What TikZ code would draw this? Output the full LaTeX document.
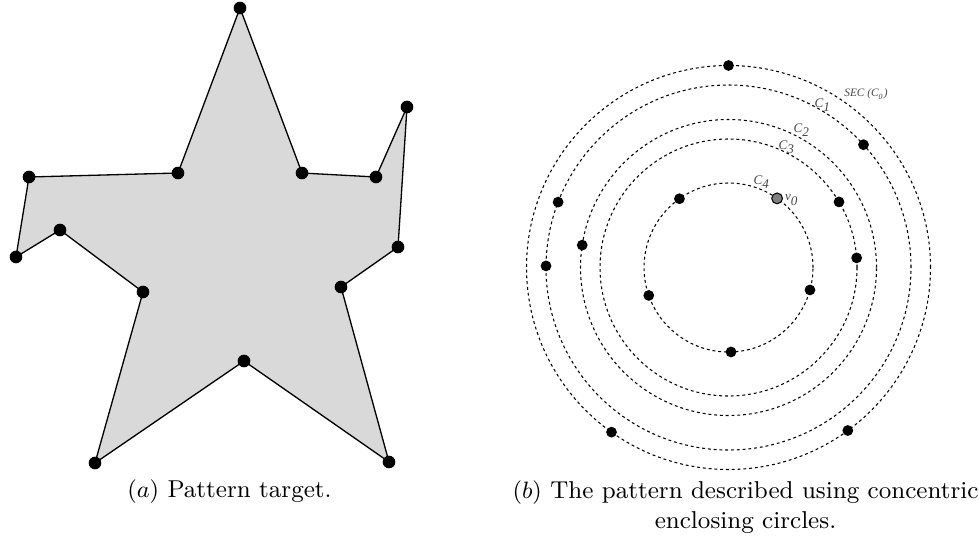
\documentclass[tikz,border=0pt]{standalone}
\usepackage{fontspec}
\newfontfamily\lblfont{Liberation Serif}
\definecolor{shapegray}{RGB}{217,217,217}
\definecolor{lblgray}{RGB}{70,70,70}
\begin{document}
\begin{tikzpicture}[x=0.38pt,y=0.38pt,
      vtx/.style={circle,fill=black,inner sep=0pt,minimum size=4.8pt},
      cvtx/.style={circle,fill=black,inner sep=0pt,minimum size=4.1pt},
      ring/.style={dash pattern=on 1.1pt off 1.1pt,line width=0.4pt},
      lbl/.style={font=\lblfont\itshape\fontsize{5}{6}\selectfont,text=lblgray,inner sep=0pt},
      capt/.style={font=\fontsize{9.27}{11.4}\selectfont,inner sep=0pt}]
   \useasboundingbox (0,0) rectangle (979,-551);
   % --- Left: pattern target (a star-like polygon) ---
   \foreach \n/\x/\y in {1/240/-8, 2/302/-173, 3/376/-177, 4/407/-107, 5/398/-247,
         6/341/-287, 7/389/-462, 8/244/-361, 9/95/-463, 10/143/-292,
         11/60/-230, 12/16/-257, 13/29/-177, 14/178/-173}
      \coordinate (p\n) at (\x,\y);
   \filldraw[fill=shapegray,draw=black,line width=0.5pt]
      (p1) -- (p2) -- (p3) -- (p4) -- (p5) -- (p6) -- (p7) -- (p8) -- (p9)
      -- (p10) -- (p11) -- (p12) -- (p13) -- (p14) -- cycle;
   \foreach \n in {1,...,14}
      \node[vtx] (d\n) at (p\n) {};
   \node[capt] (capa) at (229.5,-492) {$(a)$ Pattern target.};
   % --- Right: concentric enclosing circles ---
   \begin{scope}[shift={(728.5,-267.5)}]
      \coordinate (o) at (0,0);
      \draw[ring] (o) circle[radius=202];   % SEC (C_0)
      \draw[ring] (o) circle[radius=182.5]; % C_1
      \draw[ring] (o) circle[radius=148];   % C_2
      \draw[ring] (o) circle[radius=128.5]; % C_3
      \draw[ring] (o) circle[radius=84.5];  % C_4
      % points on each circle
      \foreach \a/\r [count=\i] in {90/202, 234.6/202, 306.2/202,
            159/182.5, 179.5/182.5, 42.3/182.5,
            171.3/148,
            30.7/128.5, 4.3/128.5,
            125.5/84.5, 199.3/84.5, 344.6/84.5, 271.7/84.5}
         \node[cvtx] (q\i) at (\a:\r) {};
      \node[cvtx,fill=gray,draw=black,line width=0.4pt] (v0) at (54.9:84.5) {};
   \end{scope}
   % circle labels
   \node[lbl,font=\lblfont\itshape\fontsize{4.3}{5}\selectfont] (lsec) at (866,-94) {SEC (C\textsubscript{0})};
   \node[lbl] (lc1) at (823,-105) {C\textsubscript{1}};
   \node[lbl] (lc2) at (802,-130) {C\textsubscript{2}};
   \node[lbl] (lc3) at (787,-147) {C\textsubscript{3}};
   \node[lbl] (lc4) at (762,-182) {C\textsubscript{4}};
   \node[lbl] (lv0) at (792,-200) {v\textsubscript{0}};
   \node[capt,align=center] (capb) at (745.5,-507) {$(b)$ The pattern described using concentric\\ enclosing circles.};
\end{tikzpicture}
\end{document}
